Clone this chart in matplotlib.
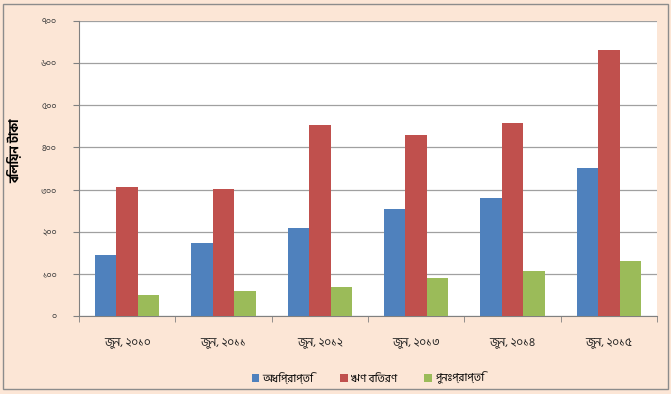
import numpy as np
import matplotlib
matplotlib.use('Agg')
import matplotlib.pyplot as plt
from matplotlib.patches import Rectangle

plt.rcParams['font.family'] = ['Hind Siliguri', 'Lohit Bengali', 'DejaVu Sans']

# জুন মাসের শেষে স্থিতি (বিলিয়ন টাকা)
periods = ['জুন, ২০১০', 'জুন, ২০১১', 'জুন, ২০১২', 'জুন, ২০১৩', 'জুন, ২০১৪', 'জুন, ২০১৫']
series_names = ['অধিপ্রাপ্তি', 'ঋণ বিতরণ', 'পুনঃপ্রাপ্তি']
blue_vals = [144, 173, 208, 253, 281, 352]
red_vals = [305, 301, 453, 429, 458, 632]
green_vals = [50, 59, 69, 91, 107, 131]
yticks = [0, 100, 200, 300, 400, 500, 600, 700]
ytick_labels = ['০', '১০০', '২০০', '৩০০', '৪০০', '৫০০', '৬০০', '৭০০']

colors = ['#4f81bd', '#c0504d', '#9bbb59']
bg = '#fce6d6'

fig = plt.figure(figsize=(6.71, 3.94), dpi=100)
fig.patch.set_facecolor(bg)
fig.patches.append(Rectangle((0.005, 0.012), 0.99, 0.978, transform=fig.transFigure,
                             fill=False, edgecolor='#8c8c8c', lw=1.0))

ax = fig.add_axes([0.1177, 0.198, 0.8614, 0.749])
ax.set_facecolor('white')

x = np.arange(len(periods))
w = 0.223
for i, vals in enumerate([blue_vals, red_vals, green_vals]):
    ax.bar(x + (i - 1) * w, vals, w, color=colors[i], label=series_names[i], zorder=3)

ax.set_xlim(-0.5, len(periods) - 0.5)
ax.set_ylim(0, 700)
ax.set_yticks(yticks)
ax.set_yticklabels(ytick_labels, fontsize=6.5, color='#404040')
ax.set_xticks(x)
ax.set_xticklabels(periods, fontsize=8.5, color='#202020')
ax.set_xticks(np.arange(-0.5, len(periods)), minor=True)
ax.tick_params(axis='x', which='major', length=0, pad=16)
ax.tick_params(axis='x', which='minor', length=4, color='#808080')
ax.tick_params(axis='y', length=4, color='#808080', pad=12)

ax.yaxis.grid(True, color='#a0a0a0', lw=0.9, zorder=0)
for s in ['top', 'right']:
    ax.spines[s].set_visible(False)
for s in ['left', 'bottom']:
    ax.spines[s].set_color('#808080')

ax.set_ylabel('বিলিয়ন টাকা', fontsize=9, fontweight='bold')
ax.yaxis.set_label_coords(-0.1, 0.56)

ax.legend(loc='upper center', bbox_to_anchor=(0.5, -0.155), ncol=3, frameon=False,
          fontsize=8, handlelength=0.7, handleheight=0.7, handletextpad=0.3,
          columnspacing=2.4)

fig.savefig('out.png', dpi=100, facecolor=bg)
